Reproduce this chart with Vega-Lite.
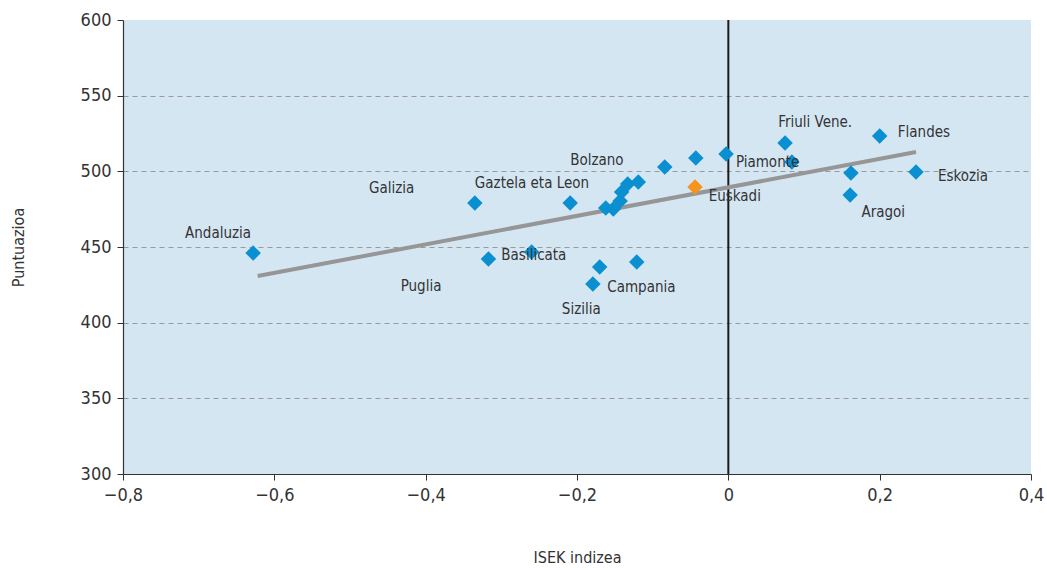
{
  "$schema": "https://vega.github.io/schema/vega-lite/v6.json",
  "width": 908,
  "height": 454,
  "autosize": {"type": "none"},
  "padding": {"left": 123, "top": 20, "right": 16, "bottom": 96},
  "background": "white",
  "config": {
    "view": {"fill": "#d5e6f3", "stroke": null},
    "font": "DejaVu Sans Condensed, Liberation Sans, sans-serif",
    "axis": {"labelFont": "DejaVu Sans Condensed, Liberation Sans, sans-serif", "titleFont": "DejaVu Sans Condensed, Liberation Sans, sans-serif"}
  },
  "datasets": {
    "points": [
      {"region": "Andaluzia", "isek": -0.628, "score": 446.0, "group": "other"},
      {"region": "Galizia", "isek": -0.335, "score": 479.1, "group": "other"},
      {"region": "Puglia", "isek": -0.317, "score": 442.1, "group": "other"},
      {"region": "Basilicata", "isek": -0.260, "score": 446.7, "group": "other"},
      {"region": "Gaztela eta Leon", "isek": -0.209, "score": 479.1, "group": "other"},
      {"region": "a", "isek": -0.162, "score": 475.8, "group": "other"},
      {"region": "b", "isek": -0.152, "score": 475.1, "group": "other"},
      {"region": "c", "isek": -0.143, "score": 480.4, "group": "other"},
      {"region": "d", "isek": -0.141, "score": 486.3, "group": "other"},
      {"region": "e", "isek": -0.133, "score": 491.6, "group": "other"},
      {"region": "f", "isek": -0.119, "score": 493.0, "group": "other"},
      {"region": "Bolzano", "isek": -0.084, "score": 502.9, "group": "other"},
      {"region": "g", "isek": -0.043, "score": 508.8, "group": "other"},
      {"region": "h", "isek": -0.003, "score": 511.5, "group": "other"},
      {"region": "Euskadi", "isek": -0.044, "score": 489.7, "group": "Euskadi"},
      {"region": "Campania", "isek": -0.170, "score": 436.8, "group": "other"},
      {"region": "Sizilia", "isek": -0.179, "score": 425.6, "group": "other"},
      {"region": "i", "isek": -0.121, "score": 440.1, "group": "other"},
      {"region": "Friuli Vene.", "isek": 0.075, "score": 518.7, "group": "other"},
      {"region": "Piamonte", "isek": 0.084, "score": 506.2, "group": "other"},
      {"region": "Flandes", "isek": 0.200, "score": 523.4, "group": "other"},
      {"region": "j", "isek": 0.162, "score": 498.9, "group": "other"},
      {"region": "Aragoi", "isek": 0.161, "score": 484.4, "group": "other"},
      {"region": "Eskozia", "isek": 0.248, "score": 499.6, "group": "other"}
    ],
    "labels": [
      {"text": "Andaluzia", "lx": -0.718, "ly": 459.3},
      {"text": "Galizia", "lx": -0.475, "ly": 489.0},
      {"text": "Puglia", "lx": -0.433, "ly": 424.2},
      {"text": "Basilicata", "lx": -0.300, "ly": 444.7},
      {"text": "Gaztela eta Leon", "lx": -0.335, "ly": 492.3},
      {"text": "Bolzano", "lx": -0.209, "ly": 507.5},
      {"text": "Campania", "lx": -0.160, "ly": 423.6},
      {"text": "Sizilia", "lx": -0.220, "ly": 409.0},
      {"text": "Euskadi", "lx": -0.026, "ly": 483.7},
      {"text": "Piamonte", "lx": 0.010, "ly": 506.2},
      {"text": "Friuli Vene.", "lx": 0.066, "ly": 532.6},
      {"text": "Flandes", "lx": 0.224, "ly": 526.0},
      {"text": "Eskozia", "lx": 0.277, "ly": 496.9},
      {"text": "Aragoi", "lx": 0.176, "ly": 473.1}
    ],
    "trend": [
      {"isek": -0.622, "score": 430.8},
      {"isek": 0.248, "score": 512.8}
    ],
    "zero": [
      {"isek": 0}
    ]
  },
  "layer": [
    {
      "data": {"name": "zero"},
      "mark": {"type": "rule", "color": "#1a1a1a", "strokeWidth": 2},
      "encoding": {
        "x": {
          "field": "isek", "type": "quantitative",
          "scale": {"domain": [-0.8, 0.4], "nice": false, "zero": false},
          "axis": {
            "values": [-0.8, -0.6, -0.4, -0.2, 0, 0.2, 0.4],
            "labelExpr": "datum.value == 0 ? '0' : replace(format(datum.value, '.1f'), '.', ',')",
            "labelFlush": false,
            "title": "ISEK indizea",
            "titleFontSize": 16, "titleFontWeight": "normal", "titleColor": "#333",
            "titleX": 454, "titleY": 83, "titleBaseline": "middle",
            "labelFontSize": 18, "labelColor": "#333", "labelPadding": 6,
            "domainColor": "#333", "domainWidth": 1.2,
            "tickColor": "#333", "tickSize": 6,
            "grid": false
          }
        }
      }
    },
    {
      "data": {"name": "trend"},
      "mark": {"type": "line", "color": "#969696", "strokeWidth": 4},
      "encoding": {
        "x": {"field": "isek", "type": "quantitative"},
        "y": {
          "field": "score", "type": "quantitative",
          "scale": {"domain": [300, 600], "nice": false, "zero": false},
          "axis": {
            "values": [300, 350, 400, 450, 500, 550, 600],
            "labelFlush": false,
            "title": "Puntuazioa",
            "titleFontSize": 16, "titleFontWeight": "normal", "titleColor": "#333",
            "titleX": -105, "titleY": 227, "titleAngle": -90, "titleBaseline": "middle",
            "labelFontSize": 18, "labelColor": "#333", "labelPadding": 6,
            "domainColor": "#333", "domainWidth": 1.2,
            "tickColor": "#333", "tickSize": 6,
            "grid": true, "gridColor": "#9a9a9a", "gridDash": [5, 4], "gridWidth": 1,
            "gridOpacity": {"condition": {"test": "datum.value == 300 || datum.value == 600", "value": 0}, "value": 1}
          }
        }
      }
    },
    {
      "data": {"name": "points"},
      "mark": {"type": "point", "shape": "diamond", "filled": true, "opacity": 1, "size": 240},
      "encoding": {
        "x": {"field": "isek", "type": "quantitative"},
        "y": {"field": "score", "type": "quantitative"},
        "color": {
          "field": "group", "type": "nominal",
          "scale": {"domain": ["other", "Euskadi"], "range": ["#0a8fd0", "#f7941d"]},
          "legend": null
        }
      }
    },
    {
      "data": {"name": "labels"},
      "mark": {"type": "text", "align": "left", "baseline": "middle", "fontSize": 15, "color": "#333"},
      "encoding": {
        "x": {"field": "lx", "type": "quantitative"},
        "y": {"field": "ly", "type": "quantitative"},
        "text": {"field": "text"}
      }
    }
  ]
}
